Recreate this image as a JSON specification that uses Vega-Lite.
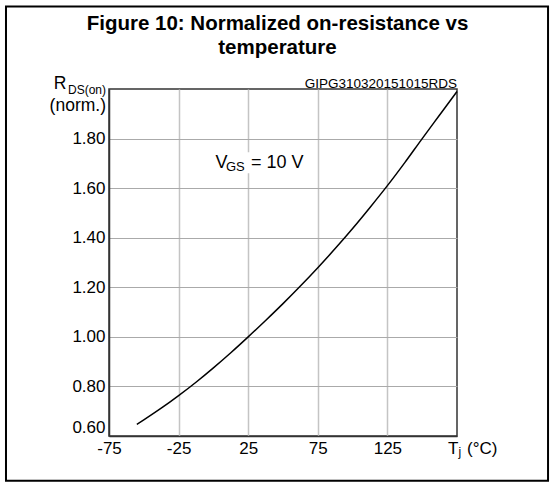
{
  "$schema": "https://vega.github.io/schema/vega-lite/v6.json",
  "width": 348,
  "height": 347,
  "autosize": "none",
  "padding": {"left": 109, "top": 89, "right": 98, "bottom": 46},
  "background": "white",
  "config": {
    "view": {"stroke": "#333333", "strokeWidth": 1.5},
    "font": "Liberation Sans"
  },
  "title": {
    "text": ["Figure 10: Normalized on-resistance vs", "temperature"],
    "font": "Liberation Sans",
    "fontSize": 20.5,
    "fontWeight": "bold",
    "color": "black",
    "anchor": "middle",
    "frame": "group",
    "baseline": "bottom",
    "lineHeight": 24,
    "offset": -73,
    "dx": -5.5
  },
  "data": {"values": [{}]},
  "datasets": {
    "curve": [
      {"t": -55, "r": 0.647},
      {"t": -50, "r": 0.665},
      {"t": -37.5, "r": 0.712},
      {"t": -25, "r": 0.763},
      {"t": -12.5, "r": 0.817},
      {"t": 0, "r": 0.875},
      {"t": 12.5, "r": 0.936},
      {"t": 25, "r": 1.0},
      {"t": 37.5, "r": 1.066},
      {"t": 50, "r": 1.134},
      {"t": 62.5, "r": 1.205},
      {"t": 75, "r": 1.279},
      {"t": 87.5, "r": 1.356},
      {"t": 100, "r": 1.437},
      {"t": 112.5, "r": 1.522},
      {"t": 125, "r": 1.610},
      {"t": 137.5, "r": 1.703},
      {"t": 150, "r": 1.800},
      {"t": 162.5, "r": 1.895},
      {"t": 175, "r": 1.990}
    ]
  },
  "layer": [
    {
      "mark": {"type": "rect", "fill": null, "stroke": "black", "strokeWidth": 2, "clip": false},
      "encoding": {
        "x": {"datum": -149, "type": "quantitative", "scale": {"domain": [-75, 175], "nice": false, "zero": false}},
        "x2": {"datum": 240.4},
        "y": {"datum": 2.333, "type": "quantitative", "scale": {"domain": [0.6, 2.0], "nice": false, "zero": false}},
        "y2": {"datum": 0.419}
      }
    },
    {
      "mark": {"type": "rect", "fill": "white", "stroke": null},
      "encoding": {
        "x": {"datum": -0.5, "type": "quantitative", "scale": {"domain": [-75, 175], "nice": false, "zero": false}},
        "x2": {"datum": 67},
        "y": {"datum": 1.745, "type": "quantitative", "scale": {"domain": [0.6, 2.0], "nice": false, "zero": false}},
        "y2": {"datum": 1.66}
      }
    },
    {
      "data": {"name": "curve"},
      "mark": {"type": "line", "color": "black", "strokeWidth": 1.5, "interpolate": "monotone"},
      "encoding": {
        "x": {
          "field": "t", "type": "quantitative",
          "scale": {"domain": [-75, 175], "nice": false, "zero": false},
          "axis": {
            "title": null,
            "values": [-75, -50, -25, 0, 25, 50, 75, 100, 125, 150, 175],
            "labelExpr": "((datum.value + 75) % 50 == 0 && datum.value < 150) ? ('' + datum.value) : ''",
            "labelFlush": false,
            "labelOverlap": false,
            "labelFont": "Liberation Sans",
            "labelFontSize": 17,
            "labelColor": "black",
            "labelPadding": 4,
            "ticks": false,
            "domain": true,
            "domainColor": "#333333",
            "domainWidth": 1.5,
            "grid": true,
            "gridColor": "#c4c4c4",
            "gridWidth": 1.5,
            "gridOpacity": {"condition": {"test": "datum.value <= -75 || datum.value >= 175", "value": 0}, "value": 1}
          }
        },
        "y": {
          "field": "r", "type": "quantitative",
          "scale": {"domain": [0.6, 2.0], "nice": false, "zero": false},
          "axis": {
            "title": null,
            "values": [0.6, 0.7, 0.8, 0.9, 1.0, 1.1, 1.2, 1.3, 1.4, 1.5, 1.6, 1.7, 1.8, 1.9, 2.0],
            "labelExpr": "(datum.value < 1.95 && round(datum.value * 10) % 2 == 0) ? format(datum.value, '.2f') : ''",
            "labelFlush": true,
            "labelOverlap": false,
            "labelFont": "Liberation Sans",
            "labelFontSize": 17,
            "labelColor": "black",
            "labelPadding": 4,
            "ticks": false,
            "domain": true,
            "domainColor": "#333333",
            "domainWidth": 1.5,
            "grid": true,
            "gridColor": "#aaaaaa",
            "gridWidth": 1,
            "gridOpacity": {"condition": {"test": "datum.value < 0.65 || datum.value > 1.95", "value": 0}, "value": 1}
          }
        }
      }
    },
    {
      "mark": {"type": "text", "text": "V", "align": "left", "baseline": "alphabetic", "dx": 2, "dy": 5, "fontSize": 18, "color": "black"},
      "encoding": {
        "x": {"datum": 0, "type": "quantitative", "scale": {"domain": [-75, 175], "nice": false, "zero": false}},
        "y": {"datum": 1.7, "type": "quantitative", "scale": {"domain": [0.6, 2.0], "nice": false, "zero": false}}
      }
    },
    {
      "mark": {"type": "text", "text": "GS", "align": "left", "baseline": "alphabetic", "dx": 12.5, "dy": 7.5, "fontSize": 13, "color": "black"},
      "encoding": {
        "x": {"datum": 0, "type": "quantitative", "scale": {"domain": [-75, 175], "nice": false, "zero": false}},
        "y": {"datum": 1.7, "type": "quantitative", "scale": {"domain": [0.6, 2.0], "nice": false, "zero": false}}
      }
    },
    {
      "mark": {"type": "text", "text": "= 10 V", "align": "left", "baseline": "alphabetic", "dx": 37.5, "dy": 5, "fontSize": 18, "color": "black"},
      "encoding": {
        "x": {"datum": 0, "type": "quantitative", "scale": {"domain": [-75, 175], "nice": false, "zero": false}},
        "y": {"datum": 1.7, "type": "quantitative", "scale": {"domain": [0.6, 2.0], "nice": false, "zero": false}}
      }
    },
    {
      "mark": {"type": "text", "text": "GIPG310320151015RDS", "align": "right", "baseline": "alphabetic", "dx": 0, "dy": -1.5, "fontSize": 13.5, "color": "black"},
      "encoding": {
        "x": {"datum": 175, "type": "quantitative", "scale": {"domain": [-75, 175], "nice": false, "zero": false}},
        "y": {"datum": 2.0, "type": "quantitative", "scale": {"domain": [0.6, 2.0], "nice": false, "zero": false}}
      }
    },
    {
      "mark": {"type": "text", "text": "R", "align": "right", "baseline": "alphabetic", "dx": -42.5, "dy": 0, "fontSize": 17.5, "color": "black"},
      "encoding": {
        "x": {"datum": -75, "type": "quantitative", "scale": {"domain": [-75, 175], "nice": false, "zero": false}},
        "y": {"datum": 2.0, "type": "quantitative", "scale": {"domain": [0.6, 2.0], "nice": false, "zero": false}}
      }
    },
    {
      "mark": {"type": "text", "text": "DS(on)", "align": "right", "baseline": "alphabetic", "dx": -3, "dy": 4.5, "fontSize": 12, "color": "black"},
      "encoding": {
        "x": {"datum": -75, "type": "quantitative", "scale": {"domain": [-75, 175], "nice": false, "zero": false}},
        "y": {"datum": 2.0, "type": "quantitative", "scale": {"domain": [0.6, 2.0], "nice": false, "zero": false}}
      }
    },
    {
      "mark": {"type": "text", "text": "(norm.)", "align": "right", "baseline": "alphabetic", "dx": -3, "dy": 22, "fontSize": 17.5, "color": "black"},
      "encoding": {
        "x": {"datum": -75, "type": "quantitative", "scale": {"domain": [-75, 175], "nice": false, "zero": false}},
        "y": {"datum": 2.0, "type": "quantitative", "scale": {"domain": [0.6, 2.0], "nice": false, "zero": false}}
      }
    },
    {
      "mark": {"type": "text", "text": "T", "align": "left", "baseline": "alphabetic", "dx": -9, "dy": 17.5, "fontSize": 17, "color": "black"},
      "encoding": {
        "x": {"datum": 175, "type": "quantitative", "scale": {"domain": [-75, 175], "nice": false, "zero": false}},
        "y": {"datum": 0.6, "type": "quantitative", "scale": {"domain": [0.6, 2.0], "nice": false, "zero": false}}
      }
    },
    {
      "mark": {"type": "text", "text": "j", "align": "left", "baseline": "alphabetic", "dx": 1.5, "dy": 19.5, "fontSize": 12, "color": "black"},
      "encoding": {
        "x": {"datum": 175, "type": "quantitative", "scale": {"domain": [-75, 175], "nice": false, "zero": false}},
        "y": {"datum": 0.6, "type": "quantitative", "scale": {"domain": [0.6, 2.0], "nice": false, "zero": false}}
      }
    },
    {
      "mark": {"type": "text", "text": "(°C)", "align": "left", "baseline": "alphabetic", "dx": 10, "dy": 17.5, "fontSize": 17, "color": "black"},
      "encoding": {
        "x": {"datum": 175, "type": "quantitative", "scale": {"domain": [-75, 175], "nice": false, "zero": false}},
        "y": {"datum": 0.6, "type": "quantitative", "scale": {"domain": [0.6, 2.0], "nice": false, "zero": false}}
      }
    }
  ]
}
